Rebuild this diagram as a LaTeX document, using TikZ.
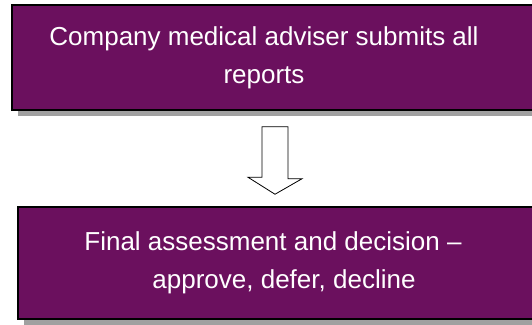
\documentclass[tikz,border=0pt]{standalone}
\usepackage{fontspec}
\setmainfont{Liberation Sans}
\usepackage{xcolor}
\usetikzlibrary{shadows,positioning,calc}

\definecolor{plum}{RGB}{107,16,94}
\definecolor{shadowgray}{RGB}{160,160,160}

\begin{document}
\begin{tikzpicture}[
    x=1pt, y=1pt,
    stage/.style={rectangle, draw=black, line width=1.5pt, fill=plum, text=white, align=center,
        inner sep=0pt, font=\fontsize{26}{38}\selectfont,
        drop shadow={shadow xshift=6pt, shadow yshift=-6pt, fill=shadowgray, opacity=1}},
    blockarrow/.style={draw=black, fill=white, line width=0.8pt, line join=miter}
]
    \useasboundingbox (0,0) rectangle (532,-324);
    \begin{scope}
    \clip (0,0) rectangle (532,-324);
    % Stages
    \node[stage, minimum width=533pt, minimum height=105pt] (submit) at (278.5,-57.5)
        {Company medical adviser submits all\hspace*{29pt}\\reports\hspace*{29pt}};
    \node[stage, minimum width=527pt, minimum height=112pt] (decide) at (281.5,-263)
        {Final assessment and decision --\hspace*{17pt}\\\hspace*{5pt}approve, defer, decline};
    \end{scope}
    % Block arrow between the stages
    \coordinate (arrtop) at ($(submit.south -| 275,0)+(0,-16)$);
    \coordinate (arrtip) at ($(decide.north -| arrtop)+(0,12)$);
    \draw[blockarrow] ($(arrtop)+(-13,0)$) -- ++(26,0) -- ++(0,-52) -- ++(14,0)
        -- (arrtip) -- ($(arrtip)+(-27,17)$) -- ++(14,0) -- cycle;
\end{tikzpicture}
\end{document}
